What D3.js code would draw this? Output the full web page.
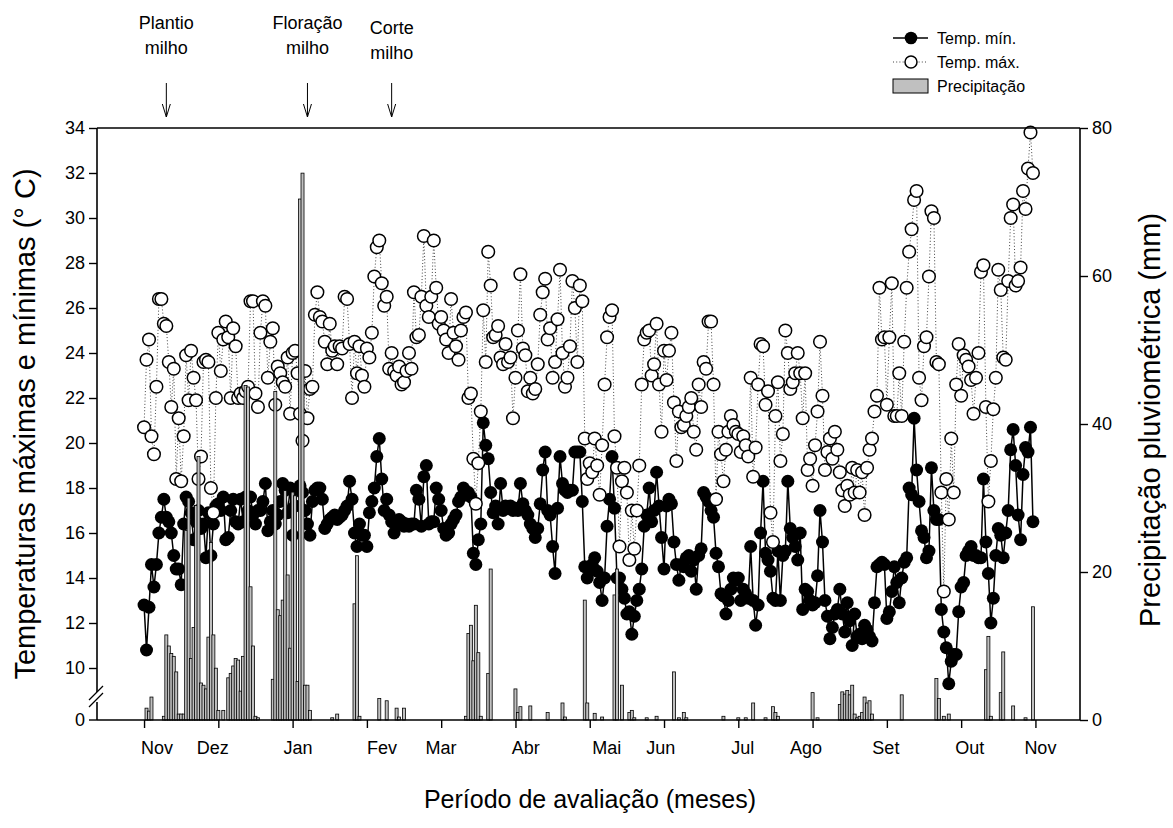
<!DOCTYPE html>
<html><head><meta charset="utf-8">
<script src="https://cdn.jsdelivr.net/npm/d3@7"></script>
<style>body{margin:0;background:#fff}text{font-family:"Liberation Sans",Arial,sans-serif}</style>
</head><body><svg id="c" width="1173" height="828"></svg>
<script>
// Daily minimum temperature (°C), day 0 = start of observations
const tmin = [
12.8,10.8,12.7,14.6,13.6,14.6,16.0,16.7,17.5,16.7,
16.5,16.0,15.0,14.4,14.4,13.7,16.4,17.6,17.4,16.9,
15.7,16.5,17.0,16.2,16.4,14.9,16.9,15.0,16.4,17.2,
17.3,17.0,17.6,15.7,15.8,17.0,17.5,16.5,16.4,17.5,
16.5,17.6,17.0,17.6,16.8,16.4,17.0,17.0,17.4,18.2,
16.1,16.5,17.0,16.4,16.8,17.4,18.2,17.9,16.9,18.0,
15.9,17.2,17.9,18.1,17.8,17.0,16.4,15.9,17.4,17.9,
18.0,18.0,17.5,16.2,16.4,16.6,16.7,16.8,16.6,16.7,
16.8,17.0,17.2,18.3,17.5,16.0,15.4,16.4,15.9,15.9,
15.4,16.9,17.4,18.0,19.4,20.2,18.4,17.0,17.5,16.8,
16.5,16.0,16.4,16.6,16.5,16.3,16.4,16.3,16.4,16.4,
17.9,17.5,16.3,18.5,19.0,16.4,16.5,16.5,18.0,17.5,
17.0,16.2,15.9,16.0,16.4,16.6,16.8,17.4,17.6,18.0,
17.8,17.8,17.6,15.1,14.6,15.7,16.4,20.9,19.9,19.3,
17.8,16.9,17.2,16.4,18.2,17.0,17.2,17.1,17.2,17.0,
17.1,17.0,18.2,17.3,17.0,16.8,16.4,16.2,15.8,16.2,
17.3,18.8,19.6,17.0,16.8,15.4,14.2,17.1,19.4,18.2,
17.9,17.8,17.9,17.9,19.6,19.6,19.6,17.4,14.5,14.0,
14.4,14.6,14.9,14.3,13.8,13.0,14.0,16.3,17.5,19.4,
17.1,14.0,14.0,13.5,13.1,12.4,12.5,11.5,12.3,13.0,
13.5,14.4,16.3,16.8,18.0,16.5,17.0,18.7,17.2,15.8,
14.4,17.2,17.5,17.3,15.6,14.6,13.9,14.6,14.5,14.9,
15.0,14.3,14.8,13.5,15.0,15.3,17.8,17.6,17.4,17.0,
16.7,15.1,14.5,13.3,13.2,12.4,13.0,13.5,14.0,13.9,
14.0,13.0,13.5,13.3,13.1,15.4,13.0,11.9,12.8,16.0,
18.3,15.1,14.8,14.3,13.1,13.0,15.2,13.0,15.0,15.2,
18.3,16.2,15.8,15.4,14.8,16.0,12.6,13.5,13.4,13.0,
12.8,12.9,14.1,17.0,15.6,13.0,12.3,11.3,11.8,12.4,
12.6,13.5,12.4,11.6,12.9,12.1,11.0,12.4,11.4,11.5,
11.3,11.9,11.7,11.4,11.2,12.9,14.5,14.6,14.7,14.6,
12.2,12.5,13.4,14.5,13.8,12.9,14.0,14.7,14.9,18.0,
17.7,21.1,18.8,17.4,16.1,15.8,14.9,15.2,18.9,17.0,
16.6,16.6,12.6,11.6,10.9,9.3,10.3,10.6,10.6,12.5,
13.6,13.8,15.0,15.2,15.4,15.0,15.0,14.9,14.9,18.4,
15.6,14.2,12.0,13.1,15.0,16.2,15.9,14.9,16.0,17.0,
19.7,20.6,19.0,16.8,15.7,18.6,19.8,19.6,20.7,16.5];

// Daily maximum temperature (°C)
const tmax = [
20.7,23.7,24.6,20.3,19.5,22.5,26.4,26.4,25.3,25.2,
23.6,21.6,23.3,18.4,21.1,18.3,20.3,23.9,21.9,24.1,
22.9,21.9,18.4,19.4,23.6,23.7,23.6,18.0,16.9,22.0,
24.9,23.2,24.6,25.4,24.7,22.0,25.1,24.3,22.0,22.2,
22.0,22.3,22.5,26.3,26.3,22.2,21.6,24.9,26.3,26.1,
22.9,24.5,25.1,21.7,23.4,23.1,22.7,22.5,23.8,21.3,
24.0,24.1,23.1,21.3,20.1,23.2,21.1,22.4,22.5,25.7,
26.7,25.6,25.4,24.5,23.5,25.3,24.1,24.3,23.5,24.3,
24.2,26.5,26.4,24.4,22.0,24.5,23.1,24.3,23.0,22.5,
24.2,23.8,24.9,27.4,28.7,29.0,27.1,26.1,26.5,23.3,
24.0,23.2,23.0,23.4,22.6,22.7,23.2,24.0,23.3,26.7,
24.7,24.8,26.5,29.2,26.1,25.6,26.5,29.0,26.9,25.3,
25.6,25.0,24.6,24.0,26.4,24.9,24.3,23.7,25.0,25.6,
25.8,22.0,22.2,19.3,17.3,19.1,21.4,25.9,23.6,28.5,
27.0,24.7,24.8,25.2,23.8,23.5,24.4,23.6,23.8,21.1,
22.9,25.0,27.5,24.2,23.9,22.3,22.9,22.2,22.4,23.5,
25.7,26.7,27.3,24.6,25.1,22.9,23.6,25.5,27.7,24.0,
22.5,22.9,24.3,27.2,26.0,23.6,27.0,26.3,20.2,18.4,
19.1,18.7,20.2,19.0,17.7,19.9,22.6,24.7,25.6,25.9,
20.3,18.9,15.4,18.3,18.9,17.8,14.8,17.0,15.3,17.0,
19.0,22.6,24.6,24.9,25.0,23.0,23.5,25.3,22.6,20.5,
24.1,22.8,24.1,24.9,21.8,19.2,21.4,20.7,20.8,21.2,
21.6,22.0,20.5,19.7,22.6,21.6,23.6,23.3,25.4,25.4,
22.6,17.5,20.5,19.5,18.3,19.7,20.5,21.2,20.8,20.5,
20.4,19.6,20.3,19.9,19.4,22.9,18.5,19.8,22.6,24.4,
24.3,21.7,22.3,16.9,15.6,21.2,22.7,19.2,20.4,25.0,
24.0,22.4,22.7,23.1,24.0,23.1,21.1,23.1,18.8,19.3,
18.1,19.9,21.4,24.5,22.1,18.8,19.6,20.2,19.3,20.5,
19.7,18.7,17.9,17.2,18.1,17.7,18.9,17.8,18.8,17.8,
18.7,16.8,18.9,19.7,20.2,21.4,22.1,26.9,24.6,24.7,
21.7,24.7,27.1,21.2,21.2,23.1,21.2,24.5,26.9,28.5,
29.5,30.8,31.2,22.9,21.9,24.3,24.7,27.4,30.3,30.0,
23.6,23.5,17.8,13.4,18.4,16.6,20.2,17.8,22.6,24.4,
22.1,23.9,23.7,23.4,22.8,21.3,22.9,24.0,27.6,27.9,
21.6,17.4,19.2,21.5,22.9,27.7,26.8,23.8,23.7,27.2,
30.0,30.6,27.0,27.2,27.8,31.2,30.4,32.2,33.8,32.0];

// Daily precipitation (mm)
const precip = [
0,1.6,1.2,3.1,0,0,0,0,0.5,11.5,10.0,9.0,8.6,6.5,0.8,0.8,0.8,25.6,30.0,8.3,12.5,29.0,35.6,5.0,4.7,4.2,11.2,24.0,11.5,7.0,
1.3,0,1.3,0,5.7,6.3,7.3,8.3,8.1,3.9,8.6,45.2,45.0,18.0,10.0,0.5,0.3,0,0,0,0,0,5.5,44.4,14.9,14.1,16.2,31.0,19.6,9.7,
30.8,30.3,5.2,70.4,73.9,4.7,4.7,1.3,0,0,0,0,0,0,0,0,0.3,0,0.8,0,0,0,0,0,0,15.7,22.2,0.5,0,0,
0,0,0,0,0,2.9,0,0,2.6,0,0,0,1.6,0.4,0,1.6,0,0,0,0,0,0,0,0,0,0,0,0,0,0,
0,0,0,0,0,0,0,0,0,0,0.5,11.7,12.8,8.0,15.5,9.1,0.5,0,0,6.3,20.4,0,0,0,0,0,0,0,0,0,
4.2,1.0,1.8,0,0,0,1.9,0,0,0,0,0,0,1.0,0,0,0,0,0,2.3,0.4,0,0,0,0,0,0,0,16.2,2.3,
0,0,0.9,0,0,0.4,0,0,0,0,16.9,20.4,0,4.7,0,0,1.0,1.3,0.3,0,0,0,0,0.3,0,0,0,0.5,0,0,
0,0,0,0,6.5,0,0.3,0,1.0,0.3,0,0,0,0,0,0,0,0,0,0,0,0,0,0,0.5,0,0,0,0,0,
0.3,0,0,0.3,0,0,2.3,0,0,0,0,0.3,0,0,1.8,1.0,0.5,0,0,0,0,0,0,0,0,0,0,0,0,0,
3.7,0,0.3,0,0,0,0,0,0,0,0,2.1,3.8,3.5,4.0,3.4,4.7,0.8,0.3,0.5,1.0,3.1,2.3,2.6,0.8,0,0,0,0,0,
0,0,0,0,0,0,3.4,0,0,0,0,0,0,0,0,0,0,0,0,0,5.6,2.9,0,0.5,0,0.8,0,0,0,0,
0,0,0,0,0,0,0,0,0,0,6.8,11.3,0.5,0,0,0,3.7,9.2,0,0,0,1.9,0,0,0,0,0.3,0,0,15.3];

const monthLabels = ["Nov","Dez","Jan","Fev","Mar","Abr","Mai","Jun","Jul","Ago","Set","Out","Nov"];
const monthPos = [5.2,27.8,62.2,96.1,119.9,154.2,186.9,208.7,241.8,267.3,299.6,333.5,362];
const xTicks = [0,30,60,90,120,150,180,210,240,270,300,330,360];
const tempTicks = [10,12,14,16,18,20,22,24,26,28,30,32,34];
const precipTicks = [0,20,40,60,80];
const events = [{day:9, l1:"Plantio", l2:"milho", dy:0},{day:66, l1:"Floração", l2:"milho", dy:0},{day:100, l1:"Corte", l2:"milho", dy:5}];

const svg = d3.select("#c");
const L=97, R=1080, T=128, B=720;
const x = d3.scaleLinear().domain([-19,378]).range([L,R]);
const yT = d3.scaleLinear().domain([10,34]).range([668,T]);
const yP = d3.scaleLinear().domain([0,80]).range([B,T]);
const days = d3.range(tmin.length);

// max temperatures: dotted line
svg.append("path").datum(days)
  .attr("d", d3.line().x(d=>x(d)).y(d=>yT(tmax[d])))
  .attr("fill","none").attr("stroke","#444").attr("stroke-width",1).attr("stroke-dasharray","1,2.2");
// min temperatures: solid line
svg.append("path").datum(days)
  .attr("d", d3.line().x(d=>x(d)).y(d=>yT(tmin[d])))
  .attr("fill","none").attr("stroke","#000").attr("stroke-width",1.5);
svg.append("g").selectAll("circle").data(days).join("circle")
  .attr("cx",d=>x(d)).attr("cy",d=>yT(tmin[d])).attr("r",6.5).attr("fill","#000");
svg.append("g").selectAll("circle").data(days).join("circle")
  .attr("cx",d=>x(d)).attr("cy",d=>yT(tmax[d])).attr("r",6.3)
  .attr("fill","#fff").attr("stroke","#000").attr("stroke-width",1.5);

// precipitation bars
svg.append("g").selectAll("rect").data(days.filter(d=>precip[d]>0)).join("rect")
  .attr("x",d=>x(d)-1.5).attr("width",3)
  .attr("y",d=>yP(precip[d])).attr("height",d=>B-yP(precip[d]))
  .attr("fill","#c0c0c0").attr("stroke","#000").attr("stroke-width",0.8);

// frame
const frame = svg.append("g").attr("stroke","#000").attr("stroke-width",1.6);
frame.append("line").attr("x1",L).attr("x2",R).attr("y1",T).attr("y2",T);
frame.append("line").attr("x1",L).attr("x2",R).attr("y1",B).attr("y2",B);
frame.append("line").attr("x1",R).attr("x2",R).attr("y1",T).attr("y2",B);
frame.append("line").attr("x1",L).attr("x2",L).attr("y1",T).attr("y2",692);
frame.append("line").attr("x1",L).attr("x2",L).attr("y1",702).attr("y2",B);
frame.append("line").attr("x1",L-8).attr("x2",L+6).attr("y1",700).attr("y2",686).attr("stroke-width",1.3);
frame.append("line").attr("x1",L-8).attr("x2",L+6).attr("y1",707).attr("y2",693).attr("stroke-width",1.3);

// left axis
const fs = 18;
const la = svg.append("g").attr("transform",`translate(${L},0)`)
  .call(d3.axisLeft(yT).tickValues(tempTicks).tickSize(8).tickSizeOuter(0).tickPadding(4));
la.select(".domain").remove();
la.selectAll("text").attr("font-size",fs).attr("font-family","Liberation Sans, Arial");
la.selectAll("line").attr("stroke-width",1.4);
svg.append("line").attr("x1",L-8).attr("x2",L).attr("y1",B).attr("y2",B).attr("stroke","#000").attr("stroke-width",1.4);
svg.append("text").attr("x",L-12).attr("y",B).attr("dy","0.35em").attr("text-anchor","end").attr("font-size",fs).text("0");

// right axis
const ra = svg.append("g").attr("transform",`translate(${R},0)`)
  .call(d3.axisRight(yP).tickValues(precipTicks).tickSize(8).tickSizeOuter(0).tickPadding(4));
ra.select(".domain").remove();
ra.selectAll("text").attr("font-size",fs).attr("font-family","Liberation Sans, Arial");
ra.selectAll("line").attr("stroke-width",1.4);

// bottom axis
const ba = svg.append("g").attr("transform",`translate(0,${B})`)
  .call(d3.axisBottom(x).tickValues(xTicks).tickSize(8).tickSizeOuter(0).tickFormat(""));
ba.select(".domain").remove();
ba.selectAll("line").attr("stroke-width",1.4);
svg.append("g").selectAll("text").data(monthLabels).join("text")
  .attr("x",(d,i)=>x(monthPos[i])).attr("y",754).attr("text-anchor","middle")
  .attr("font-size",fs).text(d=>d);

// titles
svg.append("text").attr("transform",`translate(35,424) rotate(-90)`).attr("text-anchor","middle")
  .attr("font-size",29).text("Temperaturas máximas e mínimas (° C)");
svg.append("text").attr("transform",`translate(1160,420) rotate(-90)`).attr("text-anchor","middle")
  .attr("font-size",29).text("Precipitação pluviométrica (mm)");
svg.append("text").attr("x",590).attr("y",808).attr("text-anchor","middle")
  .attr("font-size",25).text("Período de avaliação (meses)");

// event annotations
const ev = svg.append("g").selectAll("g").data(events).join("g");
ev.append("text").attr("x",d=>x(d.day)).attr("y",d=>29+d.dy).attr("text-anchor","middle").attr("font-size",18).text(d=>d.l1);
ev.append("text").attr("x",d=>x(d.day)).attr("y",d=>54+d.dy).attr("text-anchor","middle").attr("font-size",18).text(d=>d.l2);
ev.append("line").attr("x1",d=>x(d.day)).attr("x2",d=>x(d.day)).attr("y1",83).attr("y2",117).attr("stroke","#000");
ev.append("path").attr("d",d=>`M${x(d.day)-4},104L${x(d.day)},117L${x(d.day)+4},104`).attr("fill","none").attr("stroke","#000");

// legend
const lg = svg.append("g");
lg.append("line").attr("x1",893).attr("x2",928).attr("y1",38).attr("y2",38).attr("stroke","#000").attr("stroke-width",1.5);
lg.append("circle").attr("cx",911).attr("cy",38).attr("r",6.3).attr("fill","#000");
lg.append("text").attr("x",937).attr("y",44).attr("font-size",16).text("Temp. mín.");
lg.append("line").attr("x1",893).attr("x2",928).attr("y1",62).attr("y2",62).attr("stroke","#444").attr("stroke-dasharray","1,2.2");
lg.append("circle").attr("cx",911).attr("cy",62).attr("r",6).attr("fill","#fff").attr("stroke","#000").attr("stroke-width",1.5);
lg.append("text").attr("x",937).attr("y",68).attr("font-size",16).text("Temp. máx.");
lg.append("rect").attr("x",893).attr("y",79).attr("width",35).attr("height",14).attr("fill","#c0c0c0").attr("stroke","#000");
lg.append("text").attr("x",937).attr("y",92).attr("font-size",16).text("Precipitação");
</script></body></html>
